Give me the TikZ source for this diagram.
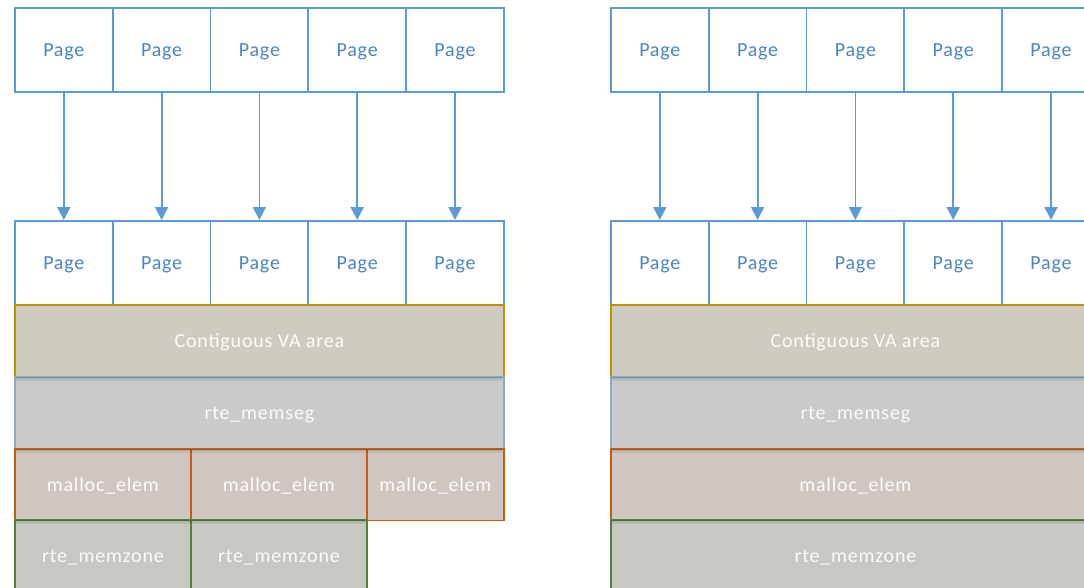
\documentclass[tikz,border=0pt]{standalone}
\usepackage{fontspec}
\setmainfont{Carlito}[LetterSpace=4]
\usetikzlibrary{arrows.meta,calc}
\definecolor{pageblue}{HTML}{5B9BD5}
\definecolor{pagetext}{HTML}{4A86C5}
\definecolor{vafill}{HTML}{CFCBC0}
\definecolor{vadraw}{HTML}{BF9000}
\definecolor{segfill}{HTML}{C9CACC}
\definecolor{segdraw}{HTML}{8EA9C8}
\definecolor{elemfill}{HTML}{CFC6C1}
\definecolor{elemdraw}{HTML}{C55A11}
\definecolor{zonefill}{HTML}{C5C9C2}
\definecolor{zonedraw}{HTML}{548235}
\tikzset{
  pagebox/.style={draw=pageblue, line width=1.8pt, fill=white, minimum width=97.8pt,
    minimum height=84pt, anchor=north west, inner sep=0pt, text=pagetext,
    font=\fontsize{20}{20}\selectfont, text height=14pt, text depth=0pt},
  band/.style={line width=1.8pt, minimum height=71.5pt, anchor=north west, inner sep=0pt,
    text=white!97!gray, font=\fontsize{20}{20}\selectfont, text height=14pt, text depth=0pt},
  vaband/.style={band, fill=vafill, draw=vadraw},
  segband/.style={band, fill=segfill, draw=segdraw},
  elemband/.style={band, fill=elemfill, draw=elemdraw},
  zoneband/.style={band, fill=zonefill, draw=zonedraw},
  maparrow/.style={draw=pageblue, line width=1.8pt, -{Triangle[width=13pt,length=13pt]}},
}
% soft shadow along the top edge of a band: \bandshade{x1}{x2}{y}
\newcommand{\bandshade}[3]{%
  \fill[black, opacity=0.13] (#1+1,#3+1) rectangle (#2-1,#3+3);
  \fill[black, opacity=0.07] (#1+1,#3+3) rectangle (#2-1,#3+5);
}
\begin{document}
\begin{tikzpicture}[x=1pt,y=-1pt]
\useasboundingbox (0,0) rectangle (1084,587);
\clip (0,0) rectangle (1084,587);
\fill[white] (0,0) rectangle (1084,587);

% ---- left mapping: pages -> contiguous VA area ----
\foreach \i in {1,...,5} {
  \node[pagebox] (ltop\i) at ({14+(\i-1)*97.8},7) {Page};
  \node[pagebox] (lbot\i) at ({14+(\i-1)*97.8},220) {Page};
}
\foreach \i in {1,...,5} {
  \draw[maparrow] (ltop\i.south) -- (lbot\i.north);
}
\node[vaband, minimum width=489pt] (lva) at (14,304) {Contiguous VA area};
\node[segband, minimum width=489pt] (lseg) at (14,376) {rte\_memseg};
\node[elemband, minimum width=176pt] (lelem1) at (14,448) {malloc\_elem};
\node[elemband, minimum width=176pt] (lelem2) at (190,448) {malloc\_elem};
\node[elemband, minimum width=137pt] (lelem3) at (366,448) {malloc\_elem};
\node[zoneband, minimum width=176pt] (lzone1) at (14,519) {rte\_memzone};
\node[zoneband, minimum width=176pt] (lzone2) at (190,519) {rte\_memzone};
\bandshade{14}{503}{376}
\bandshade{14}{503}{448}
\bandshade{14}{366}{519}

% ---- right mapping: one element spanning the whole segment ----
\foreach \i in {1,...,5} {
  \node[pagebox] (rtop\i) at ({610+(\i-1)*97.8},7) {Page};
  \node[pagebox] (rbot\i) at ({610+(\i-1)*97.8},220) {Page};
}
\foreach \i in {1,...,5} {
  \draw[maparrow] (rtop\i.south) -- (rbot\i.north);
}
\node[vaband, minimum width=489pt] (rva) at (610,304) {Contiguous VA area};
\node[segband, minimum width=489pt] (rseg) at (610,376) {rte\_memseg};
\node[elemband, minimum width=489pt] (relem) at (610,448) {malloc\_elem};
\node[zoneband, minimum width=489pt] (rzone) at (610,519) {rte\_memzone};
\bandshade{610}{1099}{376}
\bandshade{610}{1099}{448}
\bandshade{610}{1099}{519}
\end{tikzpicture}
\end{document}
